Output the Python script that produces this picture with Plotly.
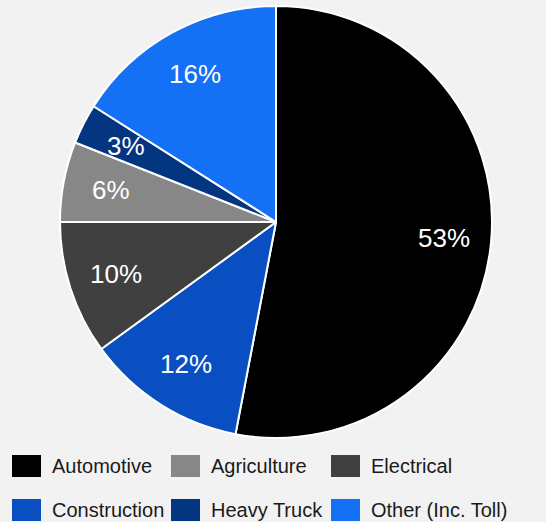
import math
import plotly.graph_objects as go

# Pie data (clockwise from 12 o'clock)
categories = ["Automotive", "Construction", "Electrical", "Agriculture", "Heavy Truck", "Other (Inc. Toll)"]
shares = [53, 12, 10, 6, 3, 16]
colors = ["#000000", "#0A4FC1", "#404040", "#878787", "#033580", "#1470F5"]

# Legend order (row-wise, 3 columns)
legend_order = ["Automotive", "Agriculture", "Electrical", "Construction", "Heavy Truck", "Other (Inc. Toll)"]

W, H = 546, 522
cx, cy, r = 276, 222, 216
label_k = 0.78

fig = go.Figure(go.Pie(
    labels=categories,
    values=shares,
    sort=False,
    direction="clockwise",
    rotation=0,
    marker=dict(colors=colors, line=dict(color="#ffffff", width=2)),
    textinfo="none",
    hoverinfo="label+percent",
    showlegend=False,
    domain=dict(x=[(cx - r) / W, (cx + r) / W], y=[1 - (cy + r) / H, 1 - (cy - r) / H]),
))

annotations = []
shapes = []

# slice labels placed along each slice's mid angle
total = sum(shares)
cum = 0
for name, v in zip(categories, shares):
    mid = (cum + v / 2) / total * 2 * math.pi
    cum += v
    px = cx + label_k * r * math.sin(mid)
    py = cy - label_k * r * math.cos(mid)
    annotations.append(dict(xref="paper", yref="paper", x=px / W, y=1 - py / H,
                            text=f"{round(v / total * 100)}%", showarrow=False,
                            xanchor="center", yanchor="middle",
                            font=dict(family="Liberation Sans, Arial", size=26, color="#ffffff")))

col_x = [12, 171, 331]
row_y = [466, 510]
color_of = dict(zip(categories, colors))
for i, name in enumerate(legend_order):
    c, rw = i % 3, i // 3
    x0 = col_x[c]
    yc = row_y[rw]
    shapes.append(dict(type="rect", xref="paper", yref="paper",
                       x0=x0 / W, x1=(x0 + 29) / W,
                       y0=1 - (yc + 11) / H, y1=1 - (yc - 11) / H,
                       fillcolor=color_of[name], line=dict(width=0)))
    annotations.append(dict(xref="paper", yref="paper", x=(x0 + 38) / W, y=1 - yc / H,
                            text=name, showarrow=False, xanchor="left", yanchor="middle",
                            font=dict(family="Liberation Sans, Arial", size=20, color="#1a1a1a")))

fig.update_layout(
    width=W, height=H,
    margin=dict(l=0, r=0, t=0, b=0),
    paper_bgcolor="#f2f2f2",
    plot_bgcolor="#f2f2f2",
    shapes=shapes,
    annotations=annotations,
)

fig.write_html("out.html", config={"displayModeBar": False},
               post_script="document.body.style.margin='0';document.body.style.overflow='hidden';")
